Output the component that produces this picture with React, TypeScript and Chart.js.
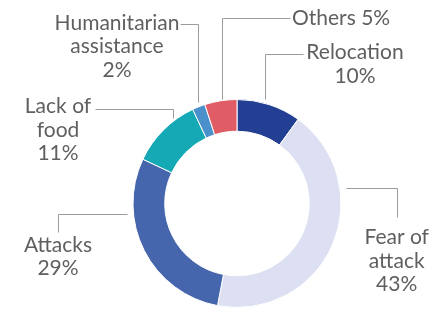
import React, { useEffect, useRef } from 'react';
import { Chart, registerables } from 'chart.js';

Chart.register(...registerables);

// ---- data ----
const categories = ['Relocation', 'Fear of attack', 'Attacks', 'Lack of food', 'Humanitarian assistance', 'Others'];
const values = [10, 43, 29, 11, 2, 5];
// how each category name is wrapped in its label; percent on its own line unless inline
const labelWraps = [['Relocation'], ['Fear of', 'attack'], ['Attacks'], ['Lack of', 'food'], ['Humanitarian', 'assistance'], ['Others']];
const percentInline = [false, false, false, false, false, true];

// ---- styles ----
const colors = ['#233f94', '#dce0f2', '#4565ad', '#14a9b4', '#4a90cb', '#e05d66'];
const TEXT_COLOR = '#5f5f5f';
const LINE_COLOR = '#9c9c9c';
const FONT = '21px Lato, "Noto Sans", sans-serif';
const LINE_HEIGHT = 23.3;

// label placement, offsets in px from the doughnut centre
type Layout = { path: number[][]; x: number; y: number; align: CanvasTextAlign };
const labelLayout: Layout[] = [
  { path: [[28, -104.5], [28, -149.5], [66, -149.5]], x: 118, y: -144.2, align: 'center' },
  { path: [[109, -15.2], [160.3, -15.2], [160.3, 13.2]], x: 159.7, y: 40.8, align: 'center' },
  { path: [[-110, 10.8], [-178.7, 10.8], [-178.7, 28.5]], x: -179, y: 48.2, align: 'center' },
  { path: [[-64, -85.5], [-64, -94.5], [-142, -94.5]], x: -179, y: -90.2, align: 'center' },
  { path: [[-39, -101.5], [-39, -180], [-57, -180]], x: -120, y: -173.5, align: 'center' },
  { path: [[-15, -104.5], [-15, -186], [53, -186]], x: 55, y: -178.5, align: 'left' },
];

function buildLines(i: number): string[] {
  const wrap = labelWraps[i].slice();
  const pct = `${values[i]}%`;
  if (percentInline[i]) {
    wrap[wrap.length - 1] = `${wrap[wrap.length - 1]} ${pct}`;
    return wrap;
  }
  return [...wrap, pct];
}

const leaderLabels = {
  id: 'leaderLabels',
  afterDraw(chart: any) {
    const meta = chart.getDatasetMeta(0);
    const arc = meta.data[0];
    if (!arc) return;
    const cx = arc.x;
    const cy = arc.y;
    const ctx = chart.ctx as CanvasRenderingContext2D;
    ctx.save();
    ctx.strokeStyle = LINE_COLOR;
    ctx.lineWidth = 1;
    labelLayout.forEach((lay) => {
      ctx.beginPath();
      lay.path.forEach((p, k) => {
        const px = Math.round(cx + p[0]) + 0.5;
        const py = Math.round(cy + p[1]) + 0.5;
        if (k === 0) ctx.moveTo(px, py);
        else ctx.lineTo(px, py);
      });
      ctx.stroke();
    });
    ctx.fillStyle = TEXT_COLOR;
    ctx.font = FONT;
    ctx.textBaseline = 'alphabetic';
    labelLayout.forEach((lay, i) => {
      ctx.textAlign = lay.align;
      buildLines(i).forEach((t, k) => {
        ctx.fillText(t, cx + lay.x, cy + lay.y + k * LINE_HEIGHT);
      });
    });
    ctx.restore();
  },
};

export default function App() {
  const ref = useRef<HTMLCanvasElement | null>(null);
  useEffect(() => {
    if (!ref.current) return;
    const chart = new Chart(ref.current, {
      type: 'doughnut',
      data: {
        labels: categories,
        datasets: [
          {
            data: values,
            backgroundColor: colors,
            borderColor: '#ffffff',
            borderWidth: 1,
            hoverOffset: 0,
          },
        ],
      },
      options: {
        responsive: false,
        animation: false,
        cutout: '69.5%',
        rotation: 0,
        layout: { padding: { left: 132.5, right: 92.5, top: 99, bottom: 1 } },
        plugins: {
          legend: { display: false },
          tooltip: { enabled: false },
        },
        events: [],
      },
      plugins: [leaderLabels],
    });
    return () => chart.destroy();
  }, []);
  return (
    <div style={{ position: 'absolute', left: 0, top: 0, width: 434, height: 309, background: '#fff' }}>
      <canvas ref={ref} width={434} height={309} style={{ display: 'block' }} />
    </div>
  );
}
